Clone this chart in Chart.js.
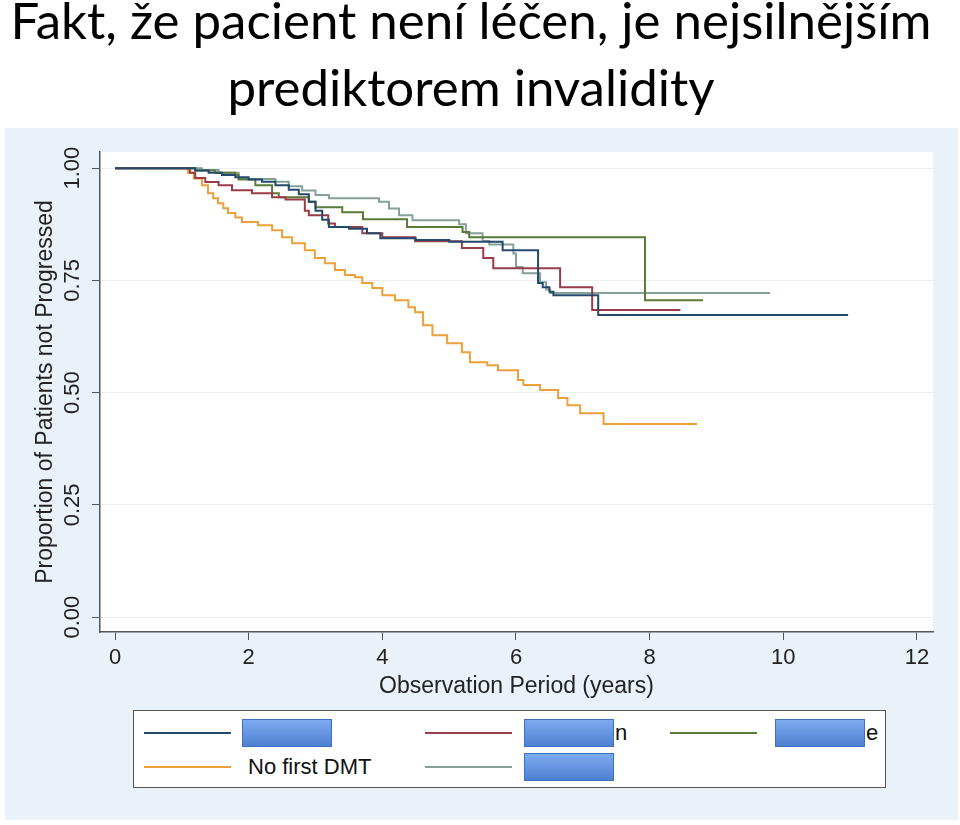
<!DOCTYPE html>
<html lang="cs">
<head>
<meta charset="utf-8">
<title>Fakt, že pacient není léčen</title>
<script src="https://cdn.jsdelivr.net/npm/chart.js"></script>
<style>
    body {
        margin: 0;
        width: 960px;
        height: 825px;
        background: #fff;
        position: relative;
        overflow: hidden;
        font-family: 'Liberation Sans', Arial, sans-serif;
    }
    .title {
        position: absolute;
        left: 0;
        top: -14px;
        width: 942px;
        text-align: center;
        font-family: Lato, sans-serif;
        font-size: 51px;
        line-height: 67px;
        color: #000;
    }
    .panel {
        position: absolute;
        left: 5px;
        top: 128px;
        width: 953px;
        height: 692px;
        background: #eaf2f9;
    }
    .legend {
        position: absolute;
        left: 133px;
        top: 710px;
        width: 751px;
        height: 76px;
        background: #fff;
        border: 1px solid #555;
    }
    .legend .ln { position: absolute; width: 87px; height: 2px; }
    .legend .mask {
        position: absolute;
        width: 90px;
        height: 28px;
        box-sizing: border-box;
        border: 1px solid #3f6fc2;
        background: linear-gradient(#7eabf0, #4e80d2);
    }
    .legend .txt { position: absolute; font-size: 22px; line-height: 26px; color: #111; white-space: nowrap; }
</style>
</head>
<body>
<div class="title">Fakt, že pacient není léčen, je nejsilnějším<br>prediktorem invalidity</div>
<div class="panel"><canvas id="km"></canvas></div>
<div class="legend" id="legend"></div>

<script>
    // Kaplan-Meier odhady (čas v letech, podíl bez progrese)
    const navyT = [0, 1.2, 1.4, 1.6, 1.8, 2.0, 2.2, 2.4, 2.6, 2.75, 2.9, 3.0, 3.1, 3.2, 3.5, 3.77, 3.97, 4.5, 5.0, 5.8, 6.33, 6.4, 6.5, 6.56, 7.23, 10.97];
    const navyS = [1, 0.995, 0.99, 0.985, 0.98, 0.975, 0.97, 0.962, 0.952, 0.942, 0.925, 0.905, 0.885, 0.869, 0.865, 0.855, 0.844, 0.84, 0.836, 0.817, 0.744, 0.735, 0.725, 0.717, 0.673, 0.673];

    const maroonT = [0, 1.12, 1.2, 1.35, 1.55, 1.75, 2.05, 2.35, 2.55, 2.84, 2.9, 3.19, 3.29, 3.7, 4.0, 4.49, 5.19, 5.51, 5.66, 6.66, 7.14, 8.46];
    const maroonS = [1, 0.99, 0.978, 0.969, 0.962, 0.951, 0.944, 0.935, 0.93, 0.905, 0.895, 0.877, 0.869, 0.855, 0.846, 0.837, 0.822, 0.8, 0.777, 0.735, 0.684, 0.684];

    const greenT = [0, 1.2, 1.5, 1.8, 1.85, 2.1, 2.35, 2.45, 2.9, 3.0, 3.4, 3.71, 4.37, 5.2, 5.3, 7.93, 8.8];
    const greenS = [1, 0.995, 0.99, 0.985, 0.975, 0.962, 0.944, 0.935, 0.925, 0.913, 0.902, 0.886, 0.869, 0.858, 0.846, 0.706, 0.706];

    const orangeT = [0, 1.09, 1.18, 1.3, 1.39, 1.47, 1.54, 1.62, 1.69, 1.8, 1.9, 2.14, 2.35, 2.5, 2.65, 2.84, 2.99, 3.14, 3.29, 3.44, 3.59, 3.7, 3.85, 4.0, 4.19, 4.39, 4.49, 4.61, 4.75, 4.97, 5.19, 5.31, 5.57, 5.73, 6.03, 6.11, 6.36, 6.63, 6.77, 6.96, 7.31, 8.71];
    const orangeS = [1, 0.99, 0.977, 0.962, 0.944, 0.933, 0.922, 0.911, 0.9, 0.89, 0.88, 0.873, 0.862, 0.846, 0.833, 0.817, 0.8, 0.788, 0.773, 0.762, 0.757, 0.744, 0.733, 0.717, 0.706, 0.69, 0.679, 0.65, 0.628, 0.61, 0.59, 0.568, 0.561, 0.55, 0.528, 0.517, 0.506, 0.488, 0.472, 0.454, 0.43, 0.43];

    const tealT = [0, 1.3, 1.55, 1.85, 2.4, 2.6, 2.8, 3.0, 3.2, 3.95, 4.1, 4.25, 4.45, 5.15, 5.25, 5.5, 5.6, 5.96, 6.0, 6.1, 6.36, 6.45, 6.51, 9.8];
    const tealS = [1, 0.996, 0.99, 0.976, 0.97, 0.96, 0.95, 0.94, 0.933, 0.925, 0.91, 0.895, 0.884, 0.875, 0.855, 0.838, 0.83, 0.81, 0.78, 0.766, 0.746, 0.73, 0.722, 0.722];

    const xTicks = [0, 2, 4, 6, 8, 10, 12];
    const yTicks = [0, 0.25, 0.5, 0.75, 1];

    // popisky legendy jsou v originále zakryté, viditelné jsou jen koncová písmena
    const legendText = ['', 'n', 'e', 'No first DMT', ''];
    const legendMasked = [true, true, true, false, true];
    const colors = ['#24496e', '#9a3c48', '#5a7a38', '#eca03a', '#84a098'];

    const series = [[navyT, navyS], [maroonT, maroonS], [greenT, greenS], [orangeT, orangeS], [tealT, tealS]];

    const plotBg = {
        id: 'plotBg',
        beforeDraw(chart) {
            const { ctx, chartArea: a } = chart;
            ctx.save();
            ctx.fillStyle = '#fff';
            ctx.fillRect(a.left, a.top, a.right - a.left, a.bottom - a.top);
            ctx.restore();
        }
    };

    // svislé popisky osy y jako ve Stata
    const yLabels = {
        id: 'yLabels',
        afterDraw(chart) {
            const s = chart.scales.y, ctx = chart.ctx;
            ctx.save();
            ctx.font = '22px "Liberation Sans", Arial';
            ctx.fillStyle = '#222';
            ctx.textAlign = 'center';
            ctx.textBaseline = 'middle';
            s.ticks.forEach(t => {
                ctx.save();
                ctx.translate(68, s.getPixelForValue(t.value));
                ctx.rotate(-Math.PI / 2);
                ctx.fillText(t.value.toFixed(2), 0, 0);
                ctx.restore();
            });
            ctx.restore();
        }
    };

    new Chart(document.getElementById('km'), {
        type: 'line',
        data: {
            datasets: series.map((s, i) => ({
                label: legendText[i],
                data: s[0].map((t, j) => ({ x: t, y: s[1][j] })),
                borderColor: colors[i],
                borderWidth: 2,
                stepped: 'before',
                pointRadius: 0,
                fill: false
            }))
        },
        options: {
            responsive: true,
            maintainAspectRatio: false,
            animation: false,
            layout: { padding: { top: 24, right: 25, bottom: 116, left: 0 } },
            plugins: { legend: { display: false }, tooltip: { enabled: false } },
            scales: {
                x: {
                    type: 'linear',
                    min: -0.225,
                    max: 12.24,
                    afterBuildTicks: sc => { sc.ticks = xTicks.map(v => ({ value: v })); },
                    afterFit: sc => { sc.height = 72; },
                    grid: { drawOnChartArea: false, tickColor: '#555', tickLength: 8 },
                    border: { color: '#555', width: 1.5 },
                    ticks: { font: { size: 22, family: 'Liberation Sans' }, color: '#222', padding: 5, maxRotation: 0 },
                    title: {
                        display: true,
                        text: 'Observation Period (years)',
                        font: { size: 23, family: 'Liberation Sans' },
                        color: '#222',
                        padding: { top: 0, bottom: 4 }
                    }
                },
                y: {
                    min: -0.033,
                    max: 1.036,
                    afterBuildTicks: sc => { sc.ticks = yTicks.map(v => ({ value: v })); },
                    afterFit: sc => { sc.width = 95; },
                    grid: { color: '#ededed', tickColor: '#555', tickLength: 8 },
                    border: { color: '#555', width: 1.5 },
                    ticks: { display: false },
                    title: {
                        display: true,
                        text: 'Proportion of Patients not Progressed',
                        font: { size: 23, family: 'Liberation Sans' },
                        color: '#222',
                        padding: { top: 27, bottom: 0 }
                    }
                }
            }
        },
        plugins: [plotBg, yLabels]
    });

    // legenda ve třech sloupcích
    const legend = document.getElementById('legend');
    const colX = [10, 291, 536];
    const rowY = [22, 56];
    const maskShift = [98, 99, 105];
    legendText.forEach((txt, i) => {
        const col = i % 3, row = Math.floor(i / 3);
        const x = colX[col], y = rowY[row];
        const ln = document.createElement('div');
        ln.className = 'ln';
        ln.style.left = x + 'px';
        ln.style.top = (y - 1) + 'px';
        ln.style.background = colors[i];
        legend.appendChild(ln);
        if (legendMasked[i]) {
            const m = document.createElement('div');
            m.className = 'mask';
            m.style.left = (x + maskShift[col]) + 'px';
            m.style.top = (y - 14) + 'px';
            legend.appendChild(m);
            if (txt) {
                const t = document.createElement('div');
                t.className = 'txt';
                t.textContent = txt;
                t.style.left = (x + maskShift[col] + 91) + 'px';
                t.style.top = (y - 13) + 'px';
                legend.appendChild(t);
            }
        } else {
            const t = document.createElement('div');
            t.className = 'txt';
            t.textContent = txt;
            t.style.left = (x + 104) + 'px';
            t.style.top = (y - 13) + 'px';
            legend.appendChild(t);
        }
    });
</script>
</body>
</html>
